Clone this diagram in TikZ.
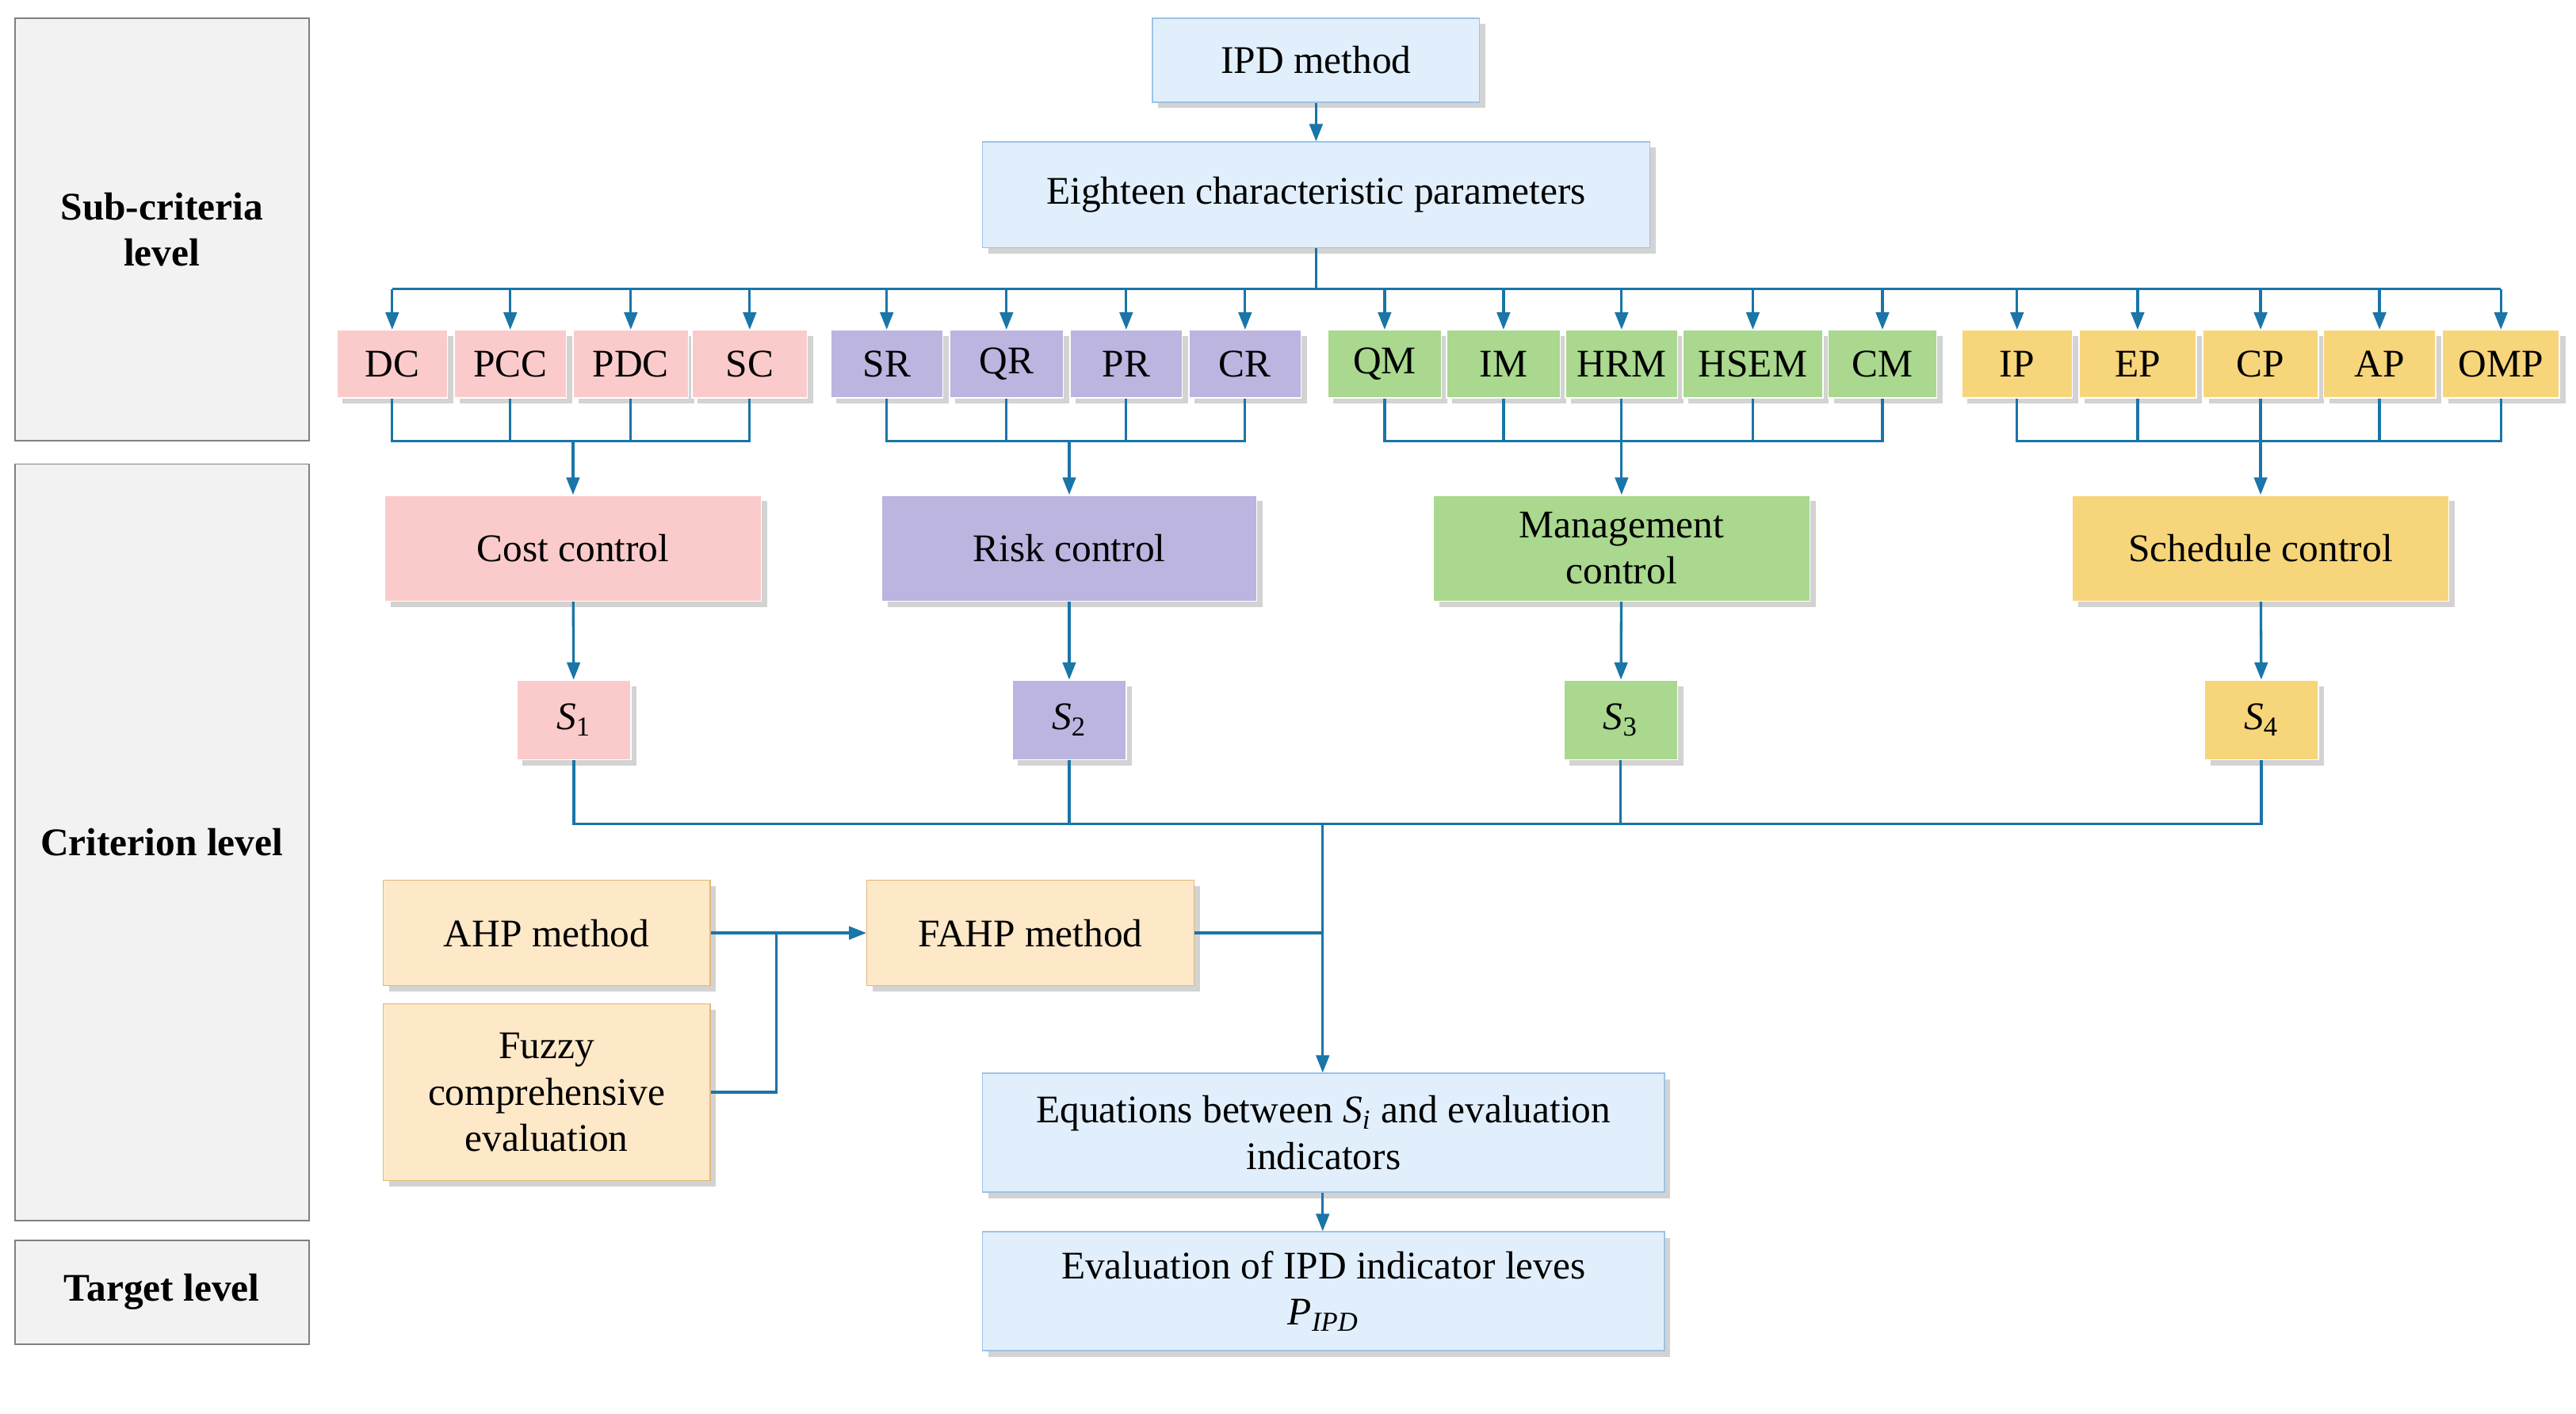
\documentclass[tikz,border=0pt]{standalone}
\usepackage{fontspec}
\setmainfont{Liberation Serif}
\usetikzlibrary{arrows.meta,shadows}
\definecolor{pk}{HTML}{FBCBCB}
\definecolor{pu}{HTML}{BBB5E0}
\definecolor{gr}{HTML}{A9D88E}
\definecolor{ye}{HTML}{F7D57A}
\definecolor{lb}{HTML}{E1EFFC}
\definecolor{lbb}{HTML}{9DC3E6}
\definecolor{be}{HTML}{FDE8C8}
\definecolor{beb}{HTML}{E2B878}
\definecolor{gy}{HTML}{F2F2F2}
\definecolor{ac}{HTML}{1A75A8}
\newcommand\bx[7]{\node[#6, minimum width={(#4-#2)*0.02cm}, minimum height={(#5-#3)*0.02cm}] (#1) at ({(#2+#4)/2},{(#3+#5)/2}) {#7};}
\tikzset{
 base/.style={draw, inner sep=0pt, align=center, font=\fontsize{13.5}{16}\selectfont, drop shadow={shadow xshift=2pt, shadow yshift=-2pt, opacity=0.35}},
 side/.style={draw=gray, fill=gy, line width=0.5pt, inner sep=0pt, align=center, font=\fontsize{13.5}{16}\selectfont\bfseries},
 P/.style={base, fill=pk, draw=white},
 U/.style={base, fill=pu, draw=white},
 G/.style={base, fill=gr, draw=white},
 Y/.style={base, fill=ye, draw=white},
 B/.style={base, fill=lb, draw=lbb},
 E/.style={base, fill=be, draw=beb},
 ln/.style={draw=ac, line width=0.9pt},
 arr/.style={ln, -{Triangle[length=6pt,width=4.5pt]}},
}
\begin{document}
\begin{tikzpicture}[x=0.02cm,y=-0.02cm]
\useasboundingbox (0,0) rectangle (1560,856);
\bx{l1}{9}{11}{187}{267}{side}{Sub-criteria\\level}
\bx{l2}{9}{281}{187}{739}{side}{Criterion level}
\bx{l3}{9}{751}{187}{814}{side}{Target level}
\bx{ipd}{698}{11}{896}{62}{B}{IPD method}
\bx{eig}{595}{86}{999}{150}{B}{Eighteen characteristic parameters}
% small boxes
\bx{DC}{204}{200}{271}{241}{P}{DC}
\bx{PCC}{275}{200}{343}{241}{P}{PCC}
\bx{PDC}{347}{200}{417}{241}{P}{PDC}
\bx{SC}{419}{200}{489}{241}{P}{SC}
\bx{SR}{503}{200}{571}{241}{U}{SR}
\bx{QR}{575}{200}{644}{241}{U}{QR}
\bx{PR}{648}{200}{716}{241}{U}{PR}
\bx{CR}{720}{200}{788}{241}{U}{CR}
\bx{QM}{804}{200}{873}{241}{G}{QM}
\bx{IM}{876}{200}{945}{241}{G}{IM}
\bx{HRM}{948}{200}{1016}{241}{G}{HRM}
\bx{HSEM}{1019}{200}{1104}{241}{G}{HSEM}
\bx{CM}{1107}{200}{1173}{241}{G}{CM}
\bx{IP}{1188}{200}{1255}{241}{Y}{IP}
\bx{EP}{1259}{200}{1330}{241}{Y}{EP}
\bx{CP}{1334}{200}{1404}{241}{Y}{CP}
\bx{AP}{1407}{200}{1475}{241}{Y}{AP}
\bx{OMP}{1479}{200}{1550}{241}{Y}{OMP}
% criteria
\bx{cost}{233}{300}{461}{364}{P}{Cost control}
\bx{risk}{534}{300}{761}{364}{U}{Risk control}
\bx{man}{868}{300}{1096}{364}{G}{Management\\control}
\bx{sch}{1255}{300}{1483}{364}{Y}{Schedule control}
\bx{s1}{313}{412}{382}{460}{P}{\textit{S}\textsubscript{1}}
\bx{s2}{613}{412}{682}{460}{U}{\textit{S}\textsubscript{2}}
\bx{s3}{947}{412}{1016}{460}{G}{\textit{S}\textsubscript{3}}
\bx{s4}{1335}{412}{1404}{460}{Y}{\textit{S}\textsubscript{4}}
\bx{ahp}{232}{533}{430}{597}{E}{AHP method}
\bx{fuz}{232}{608}{430}{715}{E}{Fuzzy\\comprehensive\\evaluation}
\bx{fahp}{525}{533}{723}{597}{E}{FAHP method}
\bx{eq}{595}{650}{1008}{722}{B}{Equations between \textit{S\textsubscript{i}} and evaluation\\indicators}
\bx{ev}{595}{746}{1008}{818}{B}{Evaluation of IPD indicator leves\\\textit{P}\textsubscript{\textit{IPD}}}
% connectors
\draw[arr] (ipd) -- (eig);
\coordinate (b0) at (797,175);
\draw[ln] (eig.south) -- (b0);
\draw[ln] (DC.north |- b0) -- (OMP.north |- b0);
\foreach \n in {DC,PCC,PDC,SC,SR,QR,PR,CR,QM,IM,HRM,HSEM,CM,IP,EP,CP,AP,OMP}
  \draw[arr] (\n.north |- b0) -- (\n.north);
\coordinate (g) at (0,267);
\foreach \a/\b/\c in {DC/SC/cost,SR/CR/risk,QM/CM/man,IP/OMP/sch}{
  \draw[ln] (\a.south) -- (\a.south |- g) -- (\b.south |- g) -- (\b.south);
  \draw[arr] (\c.north |- g) -- (\c.north);
}
\foreach \n in {PCC,PDC,QR,PR,IM,HRM,HSEM,EP,CP,AP}
  \draw[ln] (\n.south) -- (\n.south |- g);
\draw[arr] (cost) -- (s1);
\draw[arr] (risk) -- (s2);
\draw[arr] (man) -- (s3);
\draw[arr] (sch) -- (s4);
\coordinate (h) at (801,499);
\draw[ln] (s1.south) -- (s1.south |- h) -- (s4.south |- h) -- (s4.south);
\draw[ln] (s2.south) -- (s2.south |- h);
\draw[ln] (s3.south) -- (s3.south |- h);
\draw[arr] (h) -- (eq.north -| h);
\coordinate (j) at (470,565);
\draw[ln] (ahp.east) -- (j);
\draw[ln] (fuz.east) -- (fuz.east -| j) -- (j);
\draw[arr] (j) -- (fahp.west);
\draw[ln] (fahp.east) -- (fahp.east -| h);
\draw[arr] (eq.south -| h) -- (ev.north -| h);
\end{tikzpicture}
\end{document}
